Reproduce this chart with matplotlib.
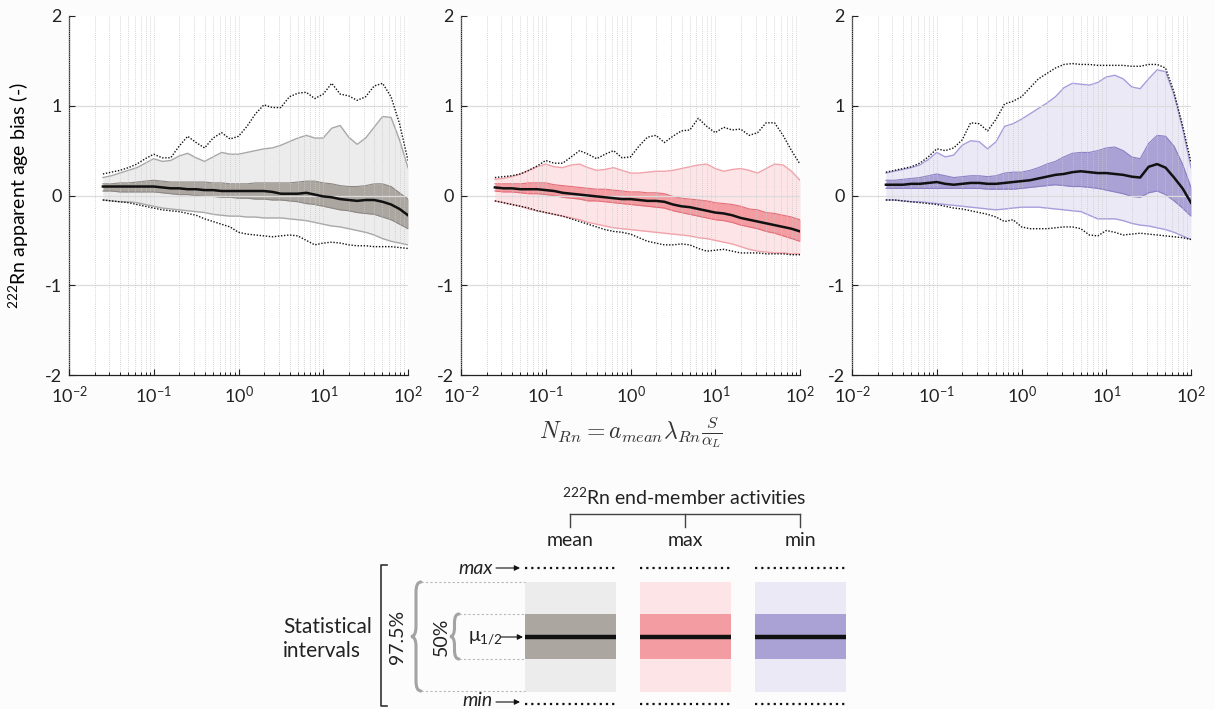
import matplotlib
matplotlib.use("Agg")
import matplotlib.pyplot as plt
from matplotlib.patches import Rectangle, PathPatch
from matplotlib.path import Path
from matplotlib.ticker import LogLocator, NullFormatter
import numpy as np

plt.rcParams["font.family"] = ["Lato", "DejaVu Sans"]
plt.rcParams["mathtext.fontset"] = "custom"
plt.rcParams["mathtext.rm"] = "Lato"
plt.rcParams["mathtext.it"] = "Lato:italic"
plt.rcParams["mathtext.bf"] = "Lato:bold"
plt.rcParams["axes.unicode_minus"] = False

# log10 of N_Rn where the statistics were evaluated
log_n = [-1.6, -1.5, -1.4, -1.3, -1.2, -1.1, -1.0, -0.9, -0.8, -0.7, -0.6, -0.5,
         -0.4, -0.3, -0.2, -0.1, 0.0, 0.1, 0.2, 0.3, 0.4, 0.5, 0.6, 0.7, 0.8,
         0.9, 1.0, 1.1, 1.2, 1.3, 1.4, 1.5, 1.6, 1.7, 1.8, 1.9, 2.0]

# mean end-member activity
amean_max = [0.24, 0.26, 0.28, 0.31, 0.35, 0.41, 0.46, 0.42, 0.42, 0.55, 0.66, 0.59, 0.53, 0.64, 0.70, 0.63, 0.66, 0.77, 0.91,
             1.01, 0.98, 0.98, 1.10, 1.14, 1.15, 1.08, 1.13, 1.25, 1.13, 1.11, 1.06, 1.10, 1.22, 1.25, 1.10, 0.80, 0.39]
amean_hi97 = [0.20, 0.22, 0.25, 0.28, 0.31, 0.36, 0.41, 0.38, 0.39, 0.44, 0.47, 0.42, 0.38, 0.43, 0.48, 0.46, 0.46, 0.48, 0.50,
              0.52, 0.53, 0.56, 0.60, 0.64, 0.67, 0.64, 0.64, 0.75, 0.78, 0.65, 0.57, 0.64, 0.76, 0.88, 0.87, 0.62, 0.31]
amean_hi50 = [0.13, 0.13, 0.14, 0.14, 0.15, 0.16, 0.17, 0.16, 0.15, 0.15, 0.15, 0.15, 0.15, 0.14, 0.14, 0.13, 0.13, 0.13, 0.14,
              0.14, 0.14, 0.14, 0.14, 0.15, 0.16, 0.16, 0.14, 0.13, 0.11, 0.10, 0.10, 0.11, 0.13, 0.13, 0.10, 0.03, -0.04]
amean_med = [0.10, 0.10, 0.10, 0.10, 0.10, 0.10, 0.10, 0.09, 0.08, 0.08, 0.07, 0.07, 0.06, 0.06, 0.05, 0.05, 0.05, 0.05, 0.05,
             0.05, 0.04, 0.02, 0.02, 0.02, 0.03, 0.01, -0.01, -0.02, -0.04, -0.05, -0.06, -0.05, -0.05, -0.07, -0.10, -0.15, -0.22]
amean_lo50 = [0.05, 0.05, 0.04, 0.04, 0.04, 0.04, 0.04, 0.03, 0.02, 0.01, 0.01, 0.00, -0.01, -0.01, -0.02, -0.02, -0.03, -0.03, -0.04,
              -0.04, -0.05, -0.05, -0.06, -0.07, -0.09, -0.10, -0.12, -0.14, -0.16, -0.17, -0.19, -0.20, -0.21, -0.24, -0.27, -0.32, -0.37]
amean_lo97 = [-0.05, -0.06, -0.07, -0.07, -0.08, -0.10, -0.12, -0.14, -0.15, -0.16, -0.17, -0.18, -0.19, -0.21, -0.22, -0.23, -0.23, -0.24, -0.24,
              -0.25, -0.25, -0.25, -0.26, -0.27, -0.28, -0.30, -0.32, -0.34, -0.35, -0.37, -0.39, -0.41, -0.44, -0.48, -0.51, -0.53, -0.55]
amean_min = [-0.05, -0.06, -0.07, -0.08, -0.10, -0.12, -0.14, -0.16, -0.17, -0.18, -0.20, -0.22, -0.26, -0.29, -0.32, -0.35, -0.41, -0.43, -0.44,
             -0.45, -0.46, -0.45, -0.44, -0.45, -0.50, -0.55, -0.53, -0.52, -0.53, -0.55, -0.56, -0.56, -0.57, -0.57, -0.57, -0.58, -0.59]

# max end-member activity
amax_max = [0.20, 0.21, 0.22, 0.24, 0.28, 0.33, 0.39, 0.36, 0.36, 0.43, 0.50, 0.46, 0.41, 0.46, 0.50, 0.42, 0.43, 0.55, 0.65,
            0.67, 0.59, 0.66, 0.72, 0.73, 0.86, 0.77, 0.70, 0.76, 0.73, 0.74, 0.67, 0.70, 0.81, 0.81, 0.67, 0.50, 0.35]
amax_hi97 = [0.18, 0.19, 0.21, 0.24, 0.28, 0.32, 0.35, 0.32, 0.31, 0.34, 0.35, 0.31, 0.28, 0.29, 0.31, 0.28, 0.25, 0.25, 0.26,
             0.27, 0.27, 0.28, 0.30, 0.32, 0.34, 0.35, 0.30, 0.27, 0.29, 0.30, 0.28, 0.25, 0.30, 0.35, 0.34, 0.27, 0.17]
amax_hi50 = [0.13, 0.13, 0.13, 0.13, 0.14, 0.14, 0.14, 0.12, 0.11, 0.10, 0.09, 0.08, 0.07, 0.07, 0.06, 0.05, 0.04, 0.04, 0.03,
             0.03, 0.02, -0.01, -0.03, -0.04, -0.05, -0.06, -0.08, -0.09, -0.10, -0.12, -0.15, -0.16, -0.19, -0.20, -0.22, -0.24, -0.27]
amax_med = [0.09, 0.08, 0.08, 0.07, 0.07, 0.07, 0.06, 0.05, 0.03, 0.02, 0.01, 0.00, -0.01, -0.02, -0.03, -0.04, -0.04, -0.05, -0.06,
            -0.06, -0.07, -0.10, -0.12, -0.13, -0.15, -0.17, -0.19, -0.20, -0.22, -0.25, -0.27, -0.29, -0.31, -0.33, -0.35, -0.37, -0.40]
amax_lo50 = [0.05, 0.04, 0.04, 0.03, 0.02, 0.02, 0.01, 0.00, -0.02, -0.03, -0.04, -0.06, -0.06, -0.07, -0.08, -0.09, -0.10, -0.11, -0.12,
             -0.13, -0.14, -0.17, -0.19, -0.21, -0.23, -0.25, -0.27, -0.28, -0.30, -0.33, -0.35, -0.37, -0.40, -0.42, -0.45, -0.48, -0.51]
amax_lo97 = [-0.06, -0.08, -0.10, -0.12, -0.15, -0.17, -0.19, -0.21, -0.23, -0.25, -0.27, -0.30, -0.32, -0.34, -0.36, -0.37, -0.38, -0.39, -0.40,
             -0.41, -0.42, -0.43, -0.44, -0.45, -0.47, -0.48, -0.50, -0.52, -0.54, -0.57, -0.60, -0.62, -0.63, -0.64, -0.64, -0.65, -0.65]
amax_min = [-0.06, -0.08, -0.10, -0.12, -0.14, -0.17, -0.19, -0.21, -0.23, -0.26, -0.29, -0.32, -0.35, -0.38, -0.40, -0.41, -0.43, -0.47, -0.51,
            -0.53, -0.55, -0.55, -0.54, -0.55, -0.59, -0.62, -0.61, -0.60, -0.62, -0.64, -0.64, -0.64, -0.65, -0.65, -0.65, -0.66, -0.66]

# min end-member activity
amin_max = [0.26, 0.28, 0.30, 0.32, 0.36, 0.43, 0.52, 0.50, 0.53, 0.62, 0.81, 0.80, 0.72, 0.85, 1.02, 1.05, 1.10, 1.20, 1.30,
            1.36, 1.42, 1.46, 1.47, 1.46, 1.46, 1.45, 1.45, 1.45, 1.45, 1.44, 1.44, 1.46, 1.46, 1.42, 1.15, 0.78, 0.37]
amin_hi97 = [0.25, 0.27, 0.29, 0.31, 0.34, 0.40, 0.48, 0.43, 0.45, 0.56, 0.61, 0.60, 0.52, 0.60, 0.77, 0.80, 0.85, 0.91, 0.97,
             1.03, 1.10, 1.20, 1.25, 1.24, 1.23, 1.26, 1.32, 1.34, 1.30, 1.21, 1.19, 1.30, 1.40, 1.38, 1.12, 0.75, 0.31]
amin_hi50 = [0.17, 0.17, 0.18, 0.19, 0.20, 0.22, 0.24, 0.22, 0.20, 0.21, 0.22, 0.22, 0.21, 0.22, 0.25, 0.26, 0.26, 0.28, 0.31,
             0.35, 0.38, 0.43, 0.47, 0.48, 0.48, 0.50, 0.53, 0.54, 0.50, 0.43, 0.41, 0.58, 0.67, 0.66, 0.55, 0.35, 0.09]
amin_med = [0.12, 0.12, 0.12, 0.13, 0.13, 0.14, 0.15, 0.13, 0.12, 0.13, 0.14, 0.14, 0.13, 0.13, 0.14, 0.15, 0.16, 0.17, 0.19,
            0.21, 0.23, 0.24, 0.26, 0.27, 0.26, 0.25, 0.25, 0.24, 0.23, 0.21, 0.20, 0.32, 0.35, 0.31, 0.20, 0.08, -0.08]
amin_lo50 = [0.08, 0.08, 0.08, 0.08, 0.08, 0.08, 0.08, 0.08, 0.08, 0.08, 0.08, 0.08, 0.07, 0.07, 0.07, 0.07, 0.08, 0.09, 0.10,
             0.11, 0.12, 0.11, 0.10, 0.10, 0.09, 0.08, 0.06, 0.04, 0.02, -0.01, -0.02, 0.03, 0.05, 0.01, -0.06, -0.14, -0.23]
amin_lo97 = [-0.05, -0.05, -0.06, -0.07, -0.07, -0.08, -0.09, -0.10, -0.11, -0.12, -0.13, -0.14, -0.15, -0.16, -0.15, -0.14, -0.13, -0.13, -0.13,
             -0.14, -0.15, -0.16, -0.17, -0.18, -0.22, -0.26, -0.26, -0.26, -0.28, -0.31, -0.33, -0.34, -0.36, -0.38, -0.41, -0.45, -0.49]
amin_min = [-0.05, -0.05, -0.06, -0.07, -0.08, -0.09, -0.10, -0.12, -0.14, -0.15, -0.17, -0.19, -0.21, -0.24, -0.29, -0.27, -0.35, -0.37, -0.37,
            -0.37, -0.36, -0.35, -0.35, -0.37, -0.44, -0.45, -0.39, -0.41, -0.44, -0.43, -0.42, -0.43, -0.44, -0.45, -0.46, -0.47, -0.49]

scenario_names = ["mean", "max", "min"]
# (light fill, light edge, dark fill, dark edge)
scenario_colors = [
    ("#ececec", "#a8a8a8", "#aca6a1", "#8d8884"),
    ("#fde4e7", "#f2a2a9", "#f39ca1", "#e26f79"),
    ("#ebe9f6", "#a69edc", "#aaa1d4", "#8a80c4"),
]
scenarios = [
    (amean_max, amean_hi97, amean_hi50, amean_med, amean_lo50, amean_lo97, amean_min),
    (amax_max, amax_hi97, amax_hi50, amax_med, amax_lo50, amax_lo97, amax_min),
    (amin_max, amin_hi97, amin_hi50, amin_med, amin_lo50, amin_lo97, amin_min),
]

W, H = 1215, 709
fig = plt.figure(figsize=(W / 100, H / 100), dpi=100, facecolor="#fcfcfc")


def add_px_axes(left, top, right, bottom):
    return fig.add_axes([left / W, 1 - bottom / H, (right - left) / W, (bottom - top) / H])


def draw_panel(ax, series, colors):
    smax, hi97, hi50, med, lo50, lo97, smin = series
    light, light_edge, dark, dark_edge = colors
    n = 10 ** np.array(log_n)
    ax.fill_between(n, lo97, hi97, color=light, lw=0, zorder=1)
    ax.plot(n, hi97, color=light_edge, lw=1.0, zorder=1.5)
    ax.plot(n, lo97, color=light_edge, lw=1.0, zorder=1.5)
    ax.fill_between(n, lo50, hi50, color=dark, lw=0, zorder=1.6)
    ax.plot(n, hi50, color=dark_edge, lw=0.8, zorder=1.7)
    ax.plot(n, lo50, color=dark_edge, lw=0.8, zorder=1.7)
    ax.plot(n, smax, color="#111111", lw=1.0, ls=(0, (1, 1.2)), zorder=3)
    ax.plot(n, smin, color="#111111", lw=1.0, ls=(0, (1, 1.2)), zorder=3)
    ax.plot(n, med, color="#111111", lw=1.8, zorder=3)

    ax.set_xscale("log")
    ax.set_xlim(1e-2, 1e2)
    ax.set_ylim(-2, 2)
    ax.set_xticks([1e-2, 1e-1, 1e0, 1e1, 1e2])
    ax.xaxis.set_minor_locator(LogLocator(base=10, subs=np.arange(2, 10)))
    ax.xaxis.set_minor_formatter(NullFormatter())
    ax.set_yticks([-2, -1, 0, 1, 2])
    ax.set_facecolor("#ffffff")
    for s in ("top", "right"):
        ax.spines[s].set_visible(False)
    for s in ("left", "bottom"):
        ax.spines[s].set_linewidth(0.9)
        ax.spines[s].set_color("#222222")
    ax.tick_params(which="major", direction="in", length=4, width=0.8, labelsize=13,
                   colors="#222222", top=False, right=False)
    ax.tick_params(which="minor", direction="in", length=2.5, width=0.6, top=False, right=False)
    ax.tick_params(axis="x", pad=7)
    ax.tick_params(axis="y", pad=5)
    ax.set_axisbelow(False)
    ax.grid(True, which="both", axis="x", ls=(0, (1, 1.5)), color="#c8c8c8", lw=0.6)
    for yv in (-1, 0, 1):
        ax.axhline(yv, color="#dcdcdc", lw=0.9, zorder=2.5)


lefts = [69, 461, 852]
axes = []
for left, series, colors in zip(lefts, scenarios, scenario_colors):
    ax = add_px_axes(left, 16, left + 339, 375)
    draw_panel(ax, series, colors)
    axes.append(ax)

axes[0].set_ylabel("$^{222}$Rn apparent age bias (-)", fontsize=14, labelpad=10)
axes[1].set_xlabel(r"$N_{Rn} = a_{mean}\lambda_{Rn}\frac{S}{\alpha_L}$", fontsize=17,
                   math_fontfamily="cm", labelpad=6, color="#333333")

# key for the statistical intervals, laid out in pixel units
lg = fig.add_axes([0, 0, 1, 1])
lg.set_xlim(0, W)
lg.set_ylim(H, 0)
lg.axis("off")
lg.patch.set_alpha(0)


def brace(x_tip, y0, y1, w, color="#a3a3a3", lw=2.2):
    ym = (y0 + y1) / 2
    xv = x_tip + w / 2
    xe = x_tip + w
    r = min(w, (y1 - y0) / 5)
    verts = [(xe, y0), (xv, y0), (xv, y0 + r), (xv, ym - r), (xv, ym), (x_tip, ym),
             (xv, ym), (xv, ym + r), (xv, y1 - r), (xv, y1), (xe, y1)]
    codes = [Path.MOVETO, Path.CURVE3, Path.CURVE3, Path.LINETO, Path.CURVE3, Path.CURVE3,
             Path.CURVE3, Path.CURVE3, Path.LINETO, Path.CURVE3, Path.CURVE3]
    lg.add_patch(PathPatch(Path(verts, codes), fc="none", ec=color, lw=lw, capstyle="round"))


def arrow(x0, x1, y):
    lg.annotate("", xy=(x1, y), xytext=(x0, y),
                arrowprops=dict(arrowstyle="-|>", color="#111111", lw=0.8,
                                mutation_scale=8, shrinkA=0, shrinkB=0))


col_x = [570, 685, 800]
half_w = 45.5
lg.text(684, 497, "$^{222}$Rn end-member activities", ha="center", va="center", fontsize=14, color="#222222")
lg.plot([col_x[0], col_x[-1]], [514, 514], color="#444444", lw=1.0)
for cx, name, colors in zip(col_x, scenario_names, scenario_colors):
    lg.plot([cx, cx], [514, 527], color="#444444", lw=1.0)
    lg.text(cx, 540, name, ha="center", va="center", fontsize=14, color="#222222")
    lg.add_patch(Rectangle((cx - half_w, 582), 2 * half_w, 110, fc=colors[0], ec="none"))
    lg.add_patch(Rectangle((cx - half_w, 614), 2 * half_w, 45, fc=colors[2], ec="none"))
    lg.plot([cx - half_w, cx + half_w], [636.5, 636.5], color="#111111", lw=3.2, solid_capstyle="butt")
    for yv in (568, 704):
        lg.plot([cx - half_w, cx + half_w], [yv, yv], color="#111111", lw=1.6, ls=(0, (1, 1.8)))

lg.text(283, 639, "Statistical\nintervals", ha="left", va="center", fontsize=15, linespacing=1.25, color="#222222")
lg.plot([387, 381, 381, 387], [565, 565, 706, 706], color="#333333", lw=1.2)
lg.text(398, 637, "97.5%", rotation=90, ha="center", va="center", fontsize=14, color="#222222")
brace(411, 582, 691, 10)
lg.text(441, 637, "50%", rotation=90, ha="center", va="center", fontsize=14, color="#222222")
brace(450, 614, 659, 9)
for x0, yv in ((421, 582), (421, 691), (459, 614), (459, 659)):
    lg.plot([x0, col_x[0] - half_w], [yv, yv], color="#b8b8b8", lw=0.8, ls=(0, (2, 2)))

lg.text(486, 638, r"μ$_{1/2}$", ha="center", va="center", fontsize=14, color="#222222")
arrow(501, 523, 637)
lg.text(493, 568, "max", ha="right", va="center", fontsize=14, style="italic", color="#222222")
arrow(496, 520, 568)
lg.text(493, 700, "min", ha="right", va="center", fontsize=14, style="italic", color="#222222")
arrow(496, 520, 702)

fig.savefig("out.png", dpi=100, facecolor=fig.get_facecolor())
